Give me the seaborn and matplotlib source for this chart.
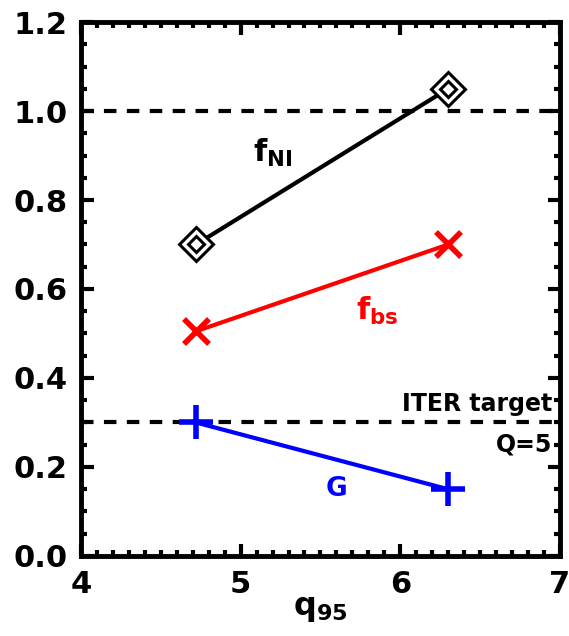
import matplotlib
matplotlib.use("Agg")
import matplotlib.pyplot as plt
from matplotlib.ticker import MultipleLocator
import seaborn as sns
import pandas as pd

q95 = [4.72, 6.30]
f_ni = [0.70, 1.05]
f_bs = [0.505, 0.70]
g_vals = [0.30, 0.15]
x_ticks = [4, 5, 6, 7]
y_ticks = [0.0, 0.2, 0.4, 0.6, 0.8, 1.0, 1.2]
ref_lines = [1.0, 0.3]

sns.set_theme(style="ticks")
plt.rcParams['font.family'] = ['DejaVu Sans']
plt.rcParams['font.weight'] = 'bold'
plt.rcParams['mathtext.default'] = 'bf'
for k in ['text.color', 'axes.labelcolor', 'xtick.color', 'ytick.color', 'axes.edgecolor']:
    plt.rcParams[k] = 'black'

fig = plt.figure(figsize=(5.69, 6.36), dpi=100)
ax = fig.add_axes([0.1424, 0.1258, 0.8416, 0.8396])

df = pd.DataFrame({
    "q95": q95 * 3,
    "val": f_ni + f_bs + g_vals,
    "series": ["fNI"] * 2 + ["fbs"] * 2 + ["G"] * 2,
})

palette = {"fNI": "black", "fbs": "red", "G": "blue"}
sns.lineplot(data=df, x="q95", y="val", hue="series", palette=palette,
             linewidth=3, legend=False, ax=ax)

d = df[df.series == "fNI"]
ax.plot(d.q95, d.val, linestyle="none", marker="D", markersize=17,
        markerfacecolor="white", markeredgecolor="black", markeredgewidth=2.2)
ax.plot(d.q95, d.val, linestyle="none", marker="D", markersize=8,
        markerfacecolor="white", markeredgecolor="black", markeredgewidth=2.2)
d = df[df.series == "fbs"]
ax.plot(d.q95, d.val, linestyle="none", marker="x", markersize=18,
        color="red", markeredgewidth=4)
d = df[df.series == "G"]
ax.plot(d.q95, d.val, linestyle="none", marker="+", markersize=24,
        color="blue", markeredgewidth=4)

for yv in ref_lines:
    ax.axhline(yv, color="black", linestyle=(0, (3, 2.5)), linewidth=3, zorder=1)

ax.set_xlim(4, 7)
ax.set_ylim(0, 1.2)
ax.set_xticks(x_ticks)
ax.set_yticks(y_ticks)
ax.set_xticklabels([str(v) for v in x_ticks])
ax.set_yticklabels([f"{v:.1f}" for v in y_ticks])
ax.xaxis.set_minor_locator(MultipleLocator(0.1))
ax.yaxis.set_minor_locator(MultipleLocator(0.05))
ax.tick_params(which="both", direction="in", top=True, right=True, width=3, color="black")
ax.tick_params(which="major", length=9, labelsize=22, pad=10)
ax.tick_params(which="minor", length=4)
for lab in ax.get_xticklabels() + ax.get_yticklabels():
    lab.set_fontweight("bold")
for s in ax.spines.values():
    s.set_linewidth(3.5)
    s.set_color("black")

ax.set_xlabel(r"q$_{\mathbf{95}}$", fontsize=23, fontweight="bold", labelpad=-4)
ax.set_ylabel("")

ax.text(5.08, 0.885, r"f$_{\mathbf{NI}}$", fontsize=22, fontweight="bold", color="black")
ax.text(5.72, 0.53, r"f$_{\mathbf{bs}}$", fontsize=22, fontweight="bold", color="red")
ax.text(5.53, 0.135, "G", fontsize=19, fontweight="bold", color="blue")
ax.text(6.95, 0.325, "ITER target", fontsize=17, fontweight="bold", ha="right")
ax.text(6.95, 0.235, "Q=5", fontsize=17, fontweight="bold", ha="right")

fig.savefig("out.png", dpi=100)
